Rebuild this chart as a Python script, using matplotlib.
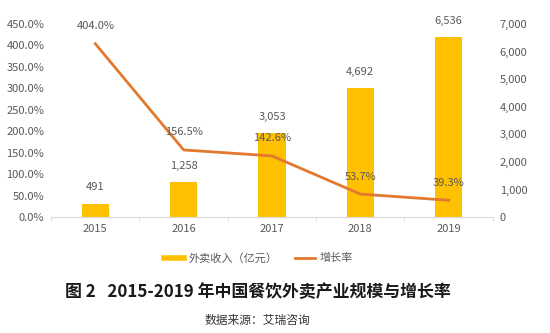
import matplotlib
matplotlib.use('Agg')
import matplotlib.pyplot as plt
from matplotlib.lines import Line2D
from matplotlib.ticker import FuncFormatter, MultipleLocator

plt.rcParams['font.family'] = ['Noto Sans CJK SC', 'DejaVu Sans']

# 数据
years = ['2015', '2016', '2017', '2018', '2019']
revenue = [491, 1258, 3053, 4692, 6536]          # 外卖收入（亿元）
growth = [404.0, 156.5, 142.6, 53.7, 39.3]        # 增长率 %

bar_color = '#FFC000'
line_color = '#E2792F'
text_gray = '#595959'

fig = plt.figure(figsize=(5.5, 3.33), dpi=100)
ax = fig.add_axes([0.093, 0.348, 0.803, 0.58])
ax2 = ax.twinx()

x = range(len(years))

# 柱状图（右轴）
ax2.bar(x, revenue, width=0.31, color=bar_color, zorder=2)
ax2.set_ylim(0, 7000)
ax2.yaxis.set_major_locator(MultipleLocator(1000))
ax2.yaxis.set_major_formatter(FuncFormatter(lambda v, p: f'{int(v):,}'))
for i, v in enumerate(revenue):
    ax2.annotate(f'{v:,}', (i, v), xytext=(0, 8), textcoords='offset points',
                 ha='center', va='bottom', fontsize=8, color=text_gray)

# 折线图（左轴）
ax.plot(x, growth, color=line_color, linewidth=2, zorder=3)
ax.set_ylim(0, 450)
ax.yaxis.set_major_locator(MultipleLocator(50))
ax.yaxis.set_major_formatter(FuncFormatter(lambda v, p: f'{v:.1f}%'))
for i, v in enumerate(growth):
    ax.annotate(f'{v:.1f}%', (i, v), xytext=(0, 9), textcoords='offset points',
                ha='center', va='bottom', fontsize=8, color=text_gray)

ax.set_zorder(ax2.get_zorder() + 1)
ax.patch.set_visible(False)

ax.set_xlim(-0.5, 4.5)
ax.set_xticks(list(x))
ax.set_xticklabels(years)
ax.set_xticks([i - 0.5 for i in range(len(years) + 1)], minor=True)

for a in (ax, ax2):
    for s in a.spines.values():
        s.set_visible(False)
    a.tick_params(axis='y', length=0, labelsize=8, labelcolor=text_gray, pad=5)
ax.spines['bottom'].set_visible(True)
ax.spines['bottom'].set_color('#D9D9D9')
ax.tick_params(axis='x', which='major', length=0, labelsize=8, labelcolor=text_gray, pad=5)
ax.tick_params(axis='x', which='minor', length=3, color='#D9D9D9')

# 图例
handles = [Line2D([0], [0], color=bar_color, lw=4),
           Line2D([0], [0], color=line_color, lw=2)]
fig.legend(handles, ['外卖收入（亿元）', '增长率'], loc='center', bbox_to_anchor=(0.47, 0.225),
           ncol=2, frameon=False, fontsize=8, labelcolor=text_gray,
           handlelength=1.8, columnspacing=1.6, handletextpad=0.4)

fig.text(0.468, 0.122, '图 2   2015-2019 年中国餐饮外卖产业规模与增长率', ha='center', va='center',
         fontsize=12.2, fontweight='bold', color='#1a1a1a')
fig.text(0.468, 0.038, '数据来源：艾瑞咨询', ha='center', va='center', fontsize=8.5, color='#333333')

fig.savefig('out.png', dpi=100)
